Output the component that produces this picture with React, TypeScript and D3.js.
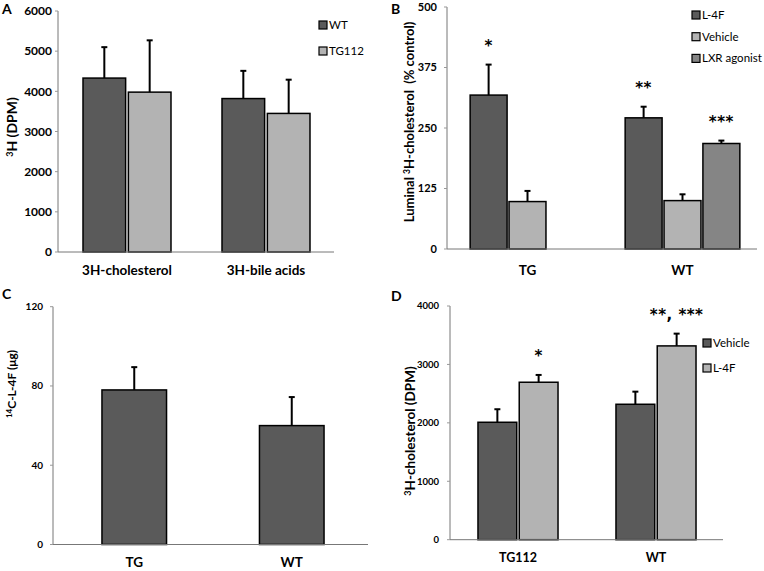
import React from "react";
import * as d3 from "d3";

// ---------- Data ----------
const aCategories = ["3H-cholesterol", "3H-bile acids"];
const aSeries = ["WT", "TG112"];
const aValues = [
  [4330, 3980],
  [3820, 3450],
];
const aErrors = [
  [5100, 5270],
  [4510, 4290],
];
const aTicks = [0, 1000, 2000, 3000, 4000, 5000, 6000];

const bCategories = ["TG", "WT"];
const bSeries = ["L-4F", "Vehicle", "LXR agonist"];
const bValues: (number | null)[][] = [
  [318, 98, null],
  [271, 100, 218],
];
const bErrors: (number | null)[][] = [
  [381, 120, null],
  [294, 113, 224],
];
const bTicks = [0, 125, 250, 375, 500];
const bStars: (string | null)[][] = [
  ["*", null, null],
  ["**", null, "***"],
];

const cCategories = ["TG", "WT"];
const cSeries = ["L-4F"];
const cValues = [[78], [60]];
const cErrors = [[89.5], [74.4]];
const cTicks = [0, 40, 80, 120];

const dCategories = ["TG112", "WT"];
const dSeries = ["Vehicle", "L-4F"];
const dValues = [
  [2010, 2695],
  [2318, 3317],
];
const dErrors = [
  [2233, 2820],
  [2534, 3527],
];
const dTicks = [0, 1000, 2000, 3000, 4000];
const dStars: (string | null)[][] = [
  [null, "*"],
  [null, "**, ***"],
];

const FONT = "Lato, 'Open Sans', sans-serif";
const STARFONT = "'DejaVu Sans', sans-serif";

interface PanelProps {
  letter: string;
  letterPos: [number, number];
  categories: string[];
  series: string[];
  colors: string[];
  values: (number | null)[][];
  errors: (number | null)[][];
  stars?: (string | null)[][];
  ticks: number[];
  yMax: number;
  yRange: [number, number];
  xRange: [number, number];
  axisX: [number, number];
  outerPad: number;
  innerPad: number;
  catLabelY: number;
  catFontSize: number;
  tickOffset: number;
  tickFontSize: number;
  title: React.ReactNode;
  titlePos: [number, number];
  titleSize: number;
  legend?: { x: number; y: number; gap: number };
}

function Panel(p: PanelProps) {
  const y = d3.scaleLinear().domain([0, p.yMax]).range(p.yRange);
  const x0 = d3
    .scaleBand<string>()
    .domain(p.categories)
    .range(p.xRange)
    .paddingInner(p.outerPad)
    .paddingOuter(p.outerPad / 2);
  const x1 = d3
    .scaleBand<string>()
    .domain(p.series)
    .range([0, x0.bandwidth()])
    .paddingInner(p.innerPad);
  const base = y(0);
  return (
    <g>
      <text
        x={p.letterPos[0]}
        y={p.letterPos[1]}
        fontFamily={FONT}
        fontWeight="bold"
        fontSize={14}
        fill="#000"
      >
        {p.letter}
      </text>
      {/* y axis */}
      <line x1={p.axisX[0]} x2={p.axisX[0]} y1={y(p.yMax)} y2={base} stroke="#777" strokeWidth={1} />
      {p.ticks.map((t) => (
        <g key={t}>
          <line x1={p.axisX[0] - 3} x2={p.axisX[0]} y1={y(t)} y2={y(t)} stroke="#999" strokeWidth={1} />
          <text
            x={p.axisX[0] - p.tickOffset}
            y={y(t)}
            dy="0.35em"
            textAnchor="end"
            fontFamily={FONT}
            fontWeight="bold"
            fontSize={p.tickFontSize}
            fill="#000"
          >
            {t}
          </text>
        </g>
      ))}
      {/* bars */}
      {p.categories.map((c, ci) => (
        <g key={c}>
          {p.series.map((s, si) => {
            const v = p.values[ci][si];
            if (v == null) return null;
            const bx = (x0(c) ?? 0) + (x1(s) ?? 0);
            const bw = x1.bandwidth();
            const e = p.errors[ci][si];
            const cx = bx + bw / 2;
            const star = p.stars ? p.stars[ci][si] : null;
            return (
              <g key={s}>
                {e != null && (
                  <g stroke="#000" strokeWidth={2}>
                    <line x1={cx} x2={cx} y1={y(v)} y2={y(e)} />
                    <line x1={cx - 3} x2={cx + 3} y1={y(e)} y2={y(e)} />
                  </g>
                )}
                <rect
                  x={bx}
                  y={y(v)}
                  width={bw}
                  height={base - y(v)}
                  fill={p.colors[si]}
                  stroke="#000"
                  strokeWidth={1.5}
                />
                {star && (
                  <text
                    x={cx}
                    y={y(e ?? v) - 13.5}
                    textAnchor="middle"
                    fontFamily={STARFONT}
                    fontWeight="bold"
                    fontSize={15}
                    letterSpacing={0.5}
                    fill="#000"
                  >
                    {star}
                  </text>
                )}
              </g>
            );
          })}
          <text
            x={(x0(c) ?? 0) + x0.bandwidth() / 2}
            y={p.catLabelY}
            textAnchor="middle"
            fontFamily={FONT}
            fontWeight="bold"
            fontSize={p.catFontSize}
            fill="#000"
          >
            {c}
          </text>
        </g>
      ))}
      {/* x axis */}
      <line x1={p.axisX[0]} x2={p.axisX[1]} y1={base} y2={base} stroke="#777" strokeWidth={1} />
      {/* y title */}
      <text
        transform={`translate(${p.titlePos[0]},${p.titlePos[1]}) rotate(-90)`}
        textAnchor="middle"
        fontFamily={FONT}
        fontWeight="bold"
        fontSize={p.titleSize}
        fill="#000"
      >
        {p.title}
      </text>
      {/* legend */}
      {p.legend &&
        p.series.map((s, si) => (
          <g key={s} transform={`translate(${p.legend!.x},${p.legend!.y + si * p.legend!.gap})`}>
            <rect x={0} y={0} width={8} height={8} fill={p.colors[si]} stroke="#000" strokeWidth={1.2} />
            <text x={10} y={8} fontFamily={FONT} fontSize={11.5} fill="#000">
              {s}
            </text>
          </g>
        ))}
    </g>
  );
}

const DARK = "#5a5a5a";
const LIGHT = "#b3b3b3";
const MID = "#858585";

export default function App() {
  return (
    <svg width={764} height={571} style={{ display: "block", position: "absolute", left: 0, top: 0 }}>
      <rect width={764} height={571} fill="#fff" />
      <Panel
        letter="A"
        letterPos={[2, 14]}
        categories={aCategories}
        series={aSeries}
        colors={[DARK, LIGHT]}
        values={aValues}
        errors={aErrors}
        ticks={aTicks}
        yMax={6000}
        yRange={[252, 11]}
        xRange={[57.5, 335.5]}
        axisX={[58, 334]}
        outerPad={0.367}
        innerPad={0.06}
        catLabelY={275}
        catFontSize={13.5}
        tickOffset={6}
        tickFontSize={12}
        title={
          <>
            <tspan fontSize={9} dy={-4}>3</tspan>
            <tspan dy={4}>H (DPM)</tspan>
          </>
        }
        titlePos={[17, 127]}
        titleSize={14}
        legend={{ x: 319, y: 21, gap: 26 }}
      />
      <Panel
        letter="B"
        letterPos={[391, 14]}
        categories={bCategories}
        series={bSeries}
        colors={[DARK, LIGHT, MID]}
        values={bValues}
        errors={bErrors}
        stars={bStars}
        ticks={bTicks}
        yMax={500}
        yRange={[249, 7]}
        xRange={[450, 760]}
        axisX={[447, 757]}
        outerPad={0.26}
        innerPad={0.05}
        catLabelY={275}
        catFontSize={13.5}
        tickOffset={10}
        tickFontSize={11}
        title={
          <>
            <tspan>Luminal </tspan>
            <tspan fontSize={8.5} dy={-4}>3</tspan>
            <tspan dy={4}>{"H-cholesterol\u00a0 (% control)"}</tspan>
          </>
        }
        titlePos={[414, 122]}
        titleSize={13}
        legend={{ x: 692, y: 11, gap: 21.7 }}
      />
      <Panel
        letter="C"
        letterPos={[2, 299]}
        categories={cCategories}
        series={cSeries}
        colors={[DARK]}
        values={cValues}
        errors={cErrors}
        ticks={cTicks}
        yMax={120}
        yRange={[544.5, 306.7]}
        xRange={[55.5, 370.5]}
        axisX={[53, 368]}
        outerPad={0.59}
        innerPad={0}
        catLabelY={567}
        catFontSize={13.5}
        tickOffset={10}
        tickFontSize={10}
        title={
          <>
            <tspan fontSize={8} dy={-4}>14</tspan>
            <tspan dy={4}>C-L-4F (μg)</tspan>
          </>
        }
        titlePos={[16, 384]}
        titleSize={12}
      />
      <Panel
        letter="D"
        letterPos={[391, 301]}
        categories={dCategories}
        series={dSeries}
        colors={[DARK, LIGHT]}
        values={dValues}
        errors={dErrors}
        stars={dStars}
        ticks={dTicks}
        yMax={4000}
        yRange={[539.7, 306]}
        xRange={[449, 725]}
        axisX={[450, 723]}
        outerPad={0.42}
        innerPad={0.06}
        catLabelY={562}
        catFontSize={12.5}
        tickOffset={11}
        tickFontSize={9.5}
        title={
          <>
            <tspan fontSize={9} dy={-4}>3</tspan>
            <tspan dy={4}>H-cholesterol (DPM)</tspan>
          </>
        }
        titlePos={[415, 431]}
        titleSize={13.5}
        legend={{ x: 703, y: 339, gap: 25 }}
      />
    </svg>
  );
}
